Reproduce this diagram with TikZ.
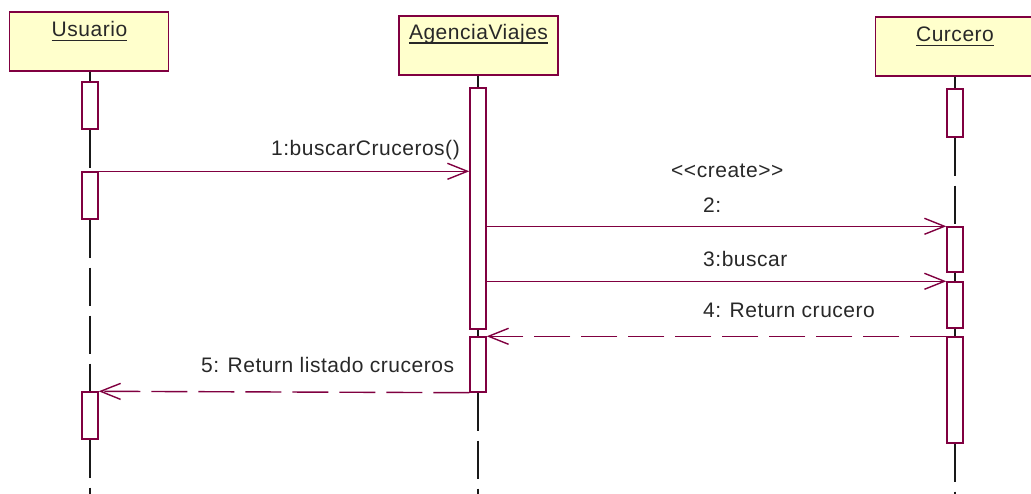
\documentclass[tikz,border=0pt]{standalone}
\usepackage{fontspec}
\setmainfont{Liberation Sans}[LetterSpace=2.5]
\usepackage{tikz}
\usetikzlibrary{arrows.meta}
\definecolor{granate}{RGB}{128,0,64}
\definecolor{crema}{RGB}{255,255,204}
\definecolor{texto}{RGB}{40,40,40}
\tikzstyle{objeto}=[rectangle, draw=granate, fill=crema, line width=1.4pt, inner sep=0pt, minimum width=159pt, minimum height=59pt]
\tikzstyle{activa}=[rectangle, draw=granate, fill=white, line width=1.4pt, inner sep=0pt, minimum width=16pt]
\tikzstyle{nombre}=[inner sep=0pt, text=texto, font=\fontsize{21}{25}\selectfont, anchor=base]
\tikzstyle{etiqueta}=[inner sep=0pt, text=texto, font=\fontsize{21}{25}\selectfont]
\tikzstyle{subrayado}=[draw=texto, line width=1.2pt]
\tikzstyle{vida}=[draw=black!90, line width=1.3pt, dash pattern=on 38pt off 10pt]
\tikzstyle{mensaje}=[draw=granate, line width=1.4pt, -{Straight Barb[length=20pt,width=16pt]}]
\tikzstyle{retorno}=[mensaje, dash pattern=on 36pt off 11pt]
\newcommand{\barra}{\node[activa]}
\newcommand{\objeto}{\node[objeto]}

\begin{document}
\begin{tikzpicture}[x=1pt, y=-1pt]
    \useasboundingbox (0,0) rectangle (1031,494);
    \coordinate (fondo) at (0,494);

    % objetos
    \objeto (usuario) at (89,41.5) {};
    \objeto (agencia) at (478.5,45.5) {};
    \objeto (curcero) at (955,46.5) {};
    \node[nombre] (nusuario) at (89.5,37) {Usuario};
    \node[nombre] (nagencia) at (478.5,39.5) {AgenciaViajes};
    \node[nombre] (ncurcero) at (955,42) {Curcero};
    \foreach \n in {nusuario, nagencia, ncurcero}
        \draw[subrayado] ([yshift=-3.5pt]\n.base west) -- ([yshift=-3.5pt]\n.base east);

    % barras de activacion
    \barra[minimum height=47pt] (u1) at (90,105.5) {};
    \barra[minimum height=47pt] (u2) at (90,195.5) {};
    \barra[minimum height=47pt] (u3) at (90,415.5) {};
    \barra[minimum height=241pt] (a1) at (478,208.5) {};
    \barra[minimum height=55pt] (a2) at (478,364.5) {};
    \barra[minimum height=48pt] (c1) at (955,113) {};
    \barra[minimum height=45pt] (c2) at (955,249.5) {};
    \barra[minimum height=46pt] (c3) at (955,305) {};
    \barra[minimum height=106pt] (c4) at (955,390) {};

    % lineas de vida
    \path[vida]
        (u1.north |- usuario.south) -- (u1.north)
        (u1.south) -- (u2.north)
        (u2.south) -- (u3.north)
        (u3.south) -- (u3.south |- fondo)
        (a1.north |- agencia.south) -- (a1.north)
        (a1.south) -- (a2.north)
        (a2.south) -- (a2.south |- fondo)
        (c1.north |- curcero.south) -- (c1.north)
        (c1.south) -- (c2.north)
        (c2.south) -- (c3.north)
        (c3.south) -- (c4.north)
        (c4.south) -- (c4.south |- fondo)
    ;

    % mensajes
    \path
        (u2.north east) edge[mensaje] (u2.north east -| a1.west)
        (c2.north west -| a1.east) edge[mensaje] (c2.north west)
        (c3.north west -| a1.east) edge[mensaje] (c3.north west)
        (c4.north west) edge[retorno] (a2.north east)
        (a2.south west) edge[retorno] (u3.north east)
    ;
    \node[etiqueta, anchor=base east] (t1) at (460,156) {1:buscarCruceros()};
    \node[etiqueta, anchor=base west] (t0) at (671,178) {<{}<create>{}>};
    \node[etiqueta, anchor=base west] (t2) at (703,213) {2:};
    \node[etiqueta, anchor=base west] (t3) at (703,267) {3:buscar};
    \node[etiqueta, anchor=base west] (t4) at (703,318) {4: Return crucero};
    \node[etiqueta, anchor=base west] (t5) at (201,373) {5: Return listado cruceros};
\end{tikzpicture}
\end{document}
